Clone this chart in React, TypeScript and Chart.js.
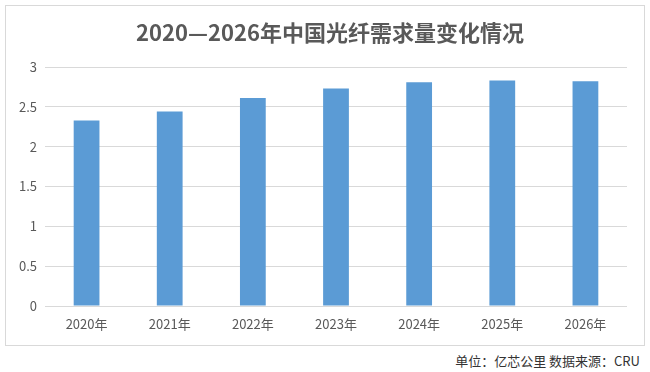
import React, { useEffect, useRef } from "react";
import { Chart, registerables } from "chart.js";

Chart.register(...registerables);

const categories = ["2020年", "2021年", "2022年", "2023年", "2024年", "2025年", "2026年"];
const demand = [2.33, 2.44, 2.61, 2.73, 2.81, 2.83, 2.82];
const yTicks = [0, 0.5, 1, 1.5, 2, 2.5, 3];
const titleText = "2020—2026年中国光纤需求量变化情况";
const sourceText = "单位：亿芯公里 数据来源：CRU";

const FONT = "'Noto Sans CJK SC', 'Noto Sans', sans-serif";

export default function App() {
  const ref = useRef<HTMLCanvasElement | null>(null);

  useEffect(() => {
    if (!ref.current) return;
    const chart = new Chart(ref.current, {
      type: "bar",
      data: {
        labels: categories,
        datasets: [
          {
            data: demand,
            backgroundColor: "#5b9bd5",
            barPercentage: 0.62,
            categoryPercentage: 0.5,
          },
        ],
      },
      options: {
        animation: false,
        responsive: false,
        maintainAspectRatio: false,
        layout: { padding: { left: 0, right: 17, top: 61, bottom: 0 } },
        plugins: {
          legend: { display: false },
          tooltip: { enabled: false },
          title: { display: false },
        },
        scales: {
          x: {
            grid: { display: false, drawTicks: false },
            border: { display: false },
            ticks: {
              color: "#595959",
              font: { family: FONT, size: 13 },
              padding: 10,
              maxRotation: 0,
            },
            afterFit: (s: any) => {
              s.height = 39;
            },
          },
          y: {
            min: 0,
            max: 3,
            afterBuildTicks: (s: any) => {
              s.ticks = yTicks.map((v) => ({ value: v }));
            },
            grid: { color: "#d9d9d9", drawTicks: false, lineWidth: 1 },
            border: { display: false },
            ticks: {
              color: "#595959",
              font: { family: FONT, size: 13 },
              padding: 8,
              callback: (v: any) => String(Number(v)),
            },
            afterFit: (s: any) => {
              s.width = 39;
            },
          },
        },
      },
    });
    return () => chart.destroy();
  }, []);

  return (
    <div
      style={{
        position: "fixed",
        left: 0,
        top: 0,
        width: 650,
        height: 372,
        background: "#ffffff",
        fontFamily: FONT,
      }}
    >
      <div
        style={{
          position: "absolute",
          left: 5,
          top: 5,
          width: 638,
          height: 339,
          border: "1px solid #d9d9d9",
          background: "#fff",
        }}
      >
        <canvas ref={ref} width={638} height={339} style={{ display: "block", width: 638, height: 339 }} />
      </div>
      <div
        style={{
          position: "absolute",
          left: 10,
          width: 640,
          top: 16,
          height: 30,
          lineHeight: "30px",
          fontSize: 22,
          fontWeight: "bold",
          color: "#595959",
          textAlign: "center",
          whiteSpace: "nowrap",
        }}
      >
        {titleText}
      </div>
      <div
        style={{
          position: "absolute",
          right: 10,
          top: 353,
          height: 16,
          lineHeight: "16px",
          fontSize: 13,
          color: "#333333",
          whiteSpace: "nowrap",
        }}
      >
        {sourceText}
      </div>
    </div>
  );
}
